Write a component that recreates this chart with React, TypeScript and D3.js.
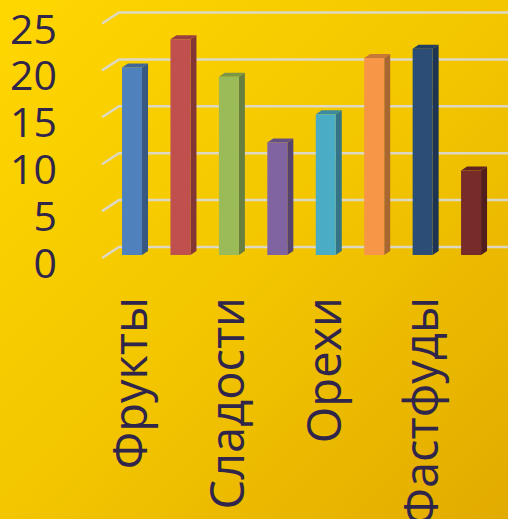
import { scaleBand, scaleLinear } from 'd3';

const categories = ['Фрукты', 'Овощи', 'Сладости', 'Молочное', 'Орехи', 'Напитки', 'Фастфуды', 'Выпечка'];
const values = [20, 23, 19, 12, 15, 21, 22, 9];
const shownLabels = ['Фрукты', 'Сладости', 'Орехи', 'Фастфуды'];
const ticks = [0, 5, 10, 15, 20, 25];
const colors = ['#4F81BD', '#C0504D', '#9BBB59', '#8064A2', '#4BACC6', '#F79646', '#2C4D75', '#772C2A'];

const W = 508;
const H = 519;
// depth of the 3d box
const DX = 17;
const DY = -11;
const TEXT = '#30254a';
const FONT = '"Open Sans", sans-serif';

export default function App() {
  // front plane y scale
  const y = scaleLinear().domain([0, 25]).range([258, 23.5]);
  const x = scaleBand().domain(categories).range([104.5, 492.6]).paddingInner(0.587).paddingOuter(0.3);

  const bw = x.bandwidth();
  // bars sit a bit inside the box
  const bx = 3;
  const by = -3;
  const sx = 6;
  const sy = -4;

  return (
    <svg width={W} height={H} style={{ position: 'fixed', left: 0, top: 0 }}>
      <defs>
        <linearGradient id="bg" x1="0" y1="0" x2="1" y2="1">
          <stop offset="0" stopColor="#FFD700" />
          <stop offset="0.5" stopColor="#F3C600" />
          <stop offset="1" stopColor="#E2AB00" />
        </linearGradient>
      </defs>
      <rect width={W} height={H} fill="url(#bg)" />

      {/* grid: back wall + side wall lines */}
      <g stroke="#DADADA" strokeWidth={2.5} fill="none" opacity={0.9}>
        {ticks.map((t) => (
          <path key={t} d={`M${102},${y(t)} L${102 + DX},${y(t) + DY} L${W},${y(t) + DY}`} />
        ))}
      </g>

      {/* bars */}
      {categories.map((c, i) => {
        const x0 = x(c)! + bx;
        const y0 = y(0) + by;
        const y1 = y(values[i]) + by;
        const col = colors[i];
        return (
          <g key={c}>
            <path
              d={`M${x0 + bw},${y0} L${x0 + bw + sx},${y0 + sy} L${x0 + bw + sx},${y1 + sy} L${x0 + bw},${y1} Z`}
              fill={col}
              style={{ filter: 'brightness(0.68)' }}
            />
            <path
              d={`M${x0},${y1} L${x0 + sx},${y1 + sy} L${x0 + bw + sx},${y1 + sy} L${x0 + bw},${y1} Z`}
              fill={col}
              style={{ filter: 'brightness(0.8)' }}
            />
            <rect x={x0} y={y1} width={bw} height={y0 - y1} fill={col} />
          </g>
        );
      })}

      {/* y axis labels */}
      <g fill={TEXT} fontFamily={FONT} fontSize={41} textAnchor="end">
        {ticks.map((t) => (
          <text key={t} x={57} y={y(t) + 4} dominantBaseline="central">
            {t}
          </text>
        ))}
      </g>

      {/* category labels, every other */}
      <g fill={TEXT} fontFamily={FONT} fontSize={47} textAnchor="end">
        {shownLabels.map((c) => {
          const cx = x(c)! + bx + bw / 2 + 15;
          return (
            <text key={c} transform={`translate(${cx},297) rotate(-90)`}>
              {c}
            </text>
          );
        })}
      </g>
    </svg>
  );
}
